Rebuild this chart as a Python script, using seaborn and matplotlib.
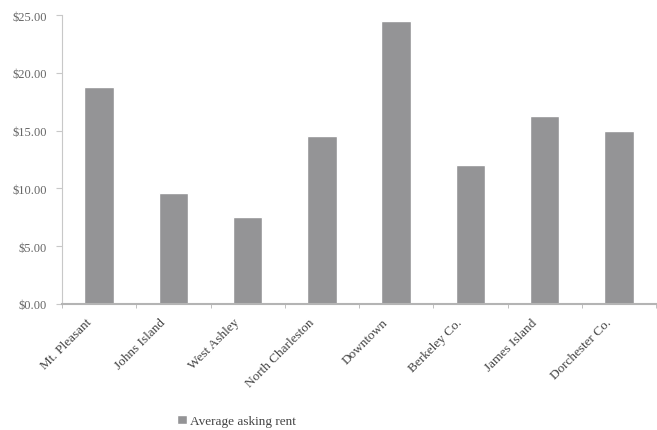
import pandas as pd
import matplotlib.pyplot as plt
import seaborn as sns
import matplotlib.transforms as mtransforms
from matplotlib.ticker import FuncFormatter, FixedLocator

# average asking rent per area
areas = ["Mt. Pleasant", "Johns Island", "West Ashley", "North Charleston",
         "Downtown", "Berkeley Co.", "James Island", "Dorchester Co."]
rent = [18.8, 9.6, 7.5, 14.5, 24.5, 12.0, 16.3, 15.0]
y_ticks = [0, 5, 10, 15, 20, 25]

df = pd.DataFrame({"area": areas, "rent": rent})

sns.set_style("white")
plt.rcParams["font.family"] = ["Liberation Serif", "DejaVu Serif"]

fig = plt.figure(figsize=(6.57, 4.31), dpi=100)
ax = fig.add_axes([62 / 657, 126 / 431, 594 / 657, 289 / 431])

sns.barplot(data=df, x="area", y="rent", color="#949496", width=0.4,
            saturation=1, ax=ax, label="Average asking rent")

ax.set_ylim(0, 25)
ax.set_xlim(-0.5, len(areas) - 0.5)
ax.yaxis.set_major_locator(FixedLocator(y_ticks))
ax.yaxis.set_major_formatter(FuncFormatter(lambda v, p: f"${v:.2f}"))
ax.set_xlabel("")
ax.set_ylabel("")

for side in ["top", "right"]:
    ax.spines[side].set_visible(False)
ax.spines["left"].set_color("#c8c8c8")
ax.spines["bottom"].set_color("#b4b4b4")
ax.spines["bottom"].set_linewidth(1.5)

ax.tick_params(axis="y", left=True, length=4, color="#c8c8c8",
               labelsize=9, labelcolor="#666666", pad=7)
ax.set_xticks(range(len(areas)))
ax.set_xticklabels(areas, rotation=45, ha="right", rotation_mode="anchor",
                   fontsize=9.5, color="#444444")
ax.tick_params(axis="x", bottom=False, pad=5)
# nudge rotated labels left like the original
shift = mtransforms.ScaledTranslation(-14 / 100, 0, fig.dpi_scale_trans)
for lbl in ax.get_xticklabels():
    lbl.set_transform(lbl.get_transform() + shift)
# small separators between categories
ax.set_xticks([i + 0.5 for i in range(-1, len(areas))], minor=True)
ax.tick_params(axis="x", which="minor", bottom=True, length=3, color="#b4b4b4")

ax.legend(loc="center left", bbox_to_anchor=(172 / 657, 1 - 422 / 431),
          bbox_transform=fig.transFigure, borderaxespad=0,
          frameon=False, fontsize=9.5, handlelength=0.7, handleheight=0.7,
          handletextpad=0.3, labelcolor="#444444")

plt.savefig("out.png", dpi=100)
